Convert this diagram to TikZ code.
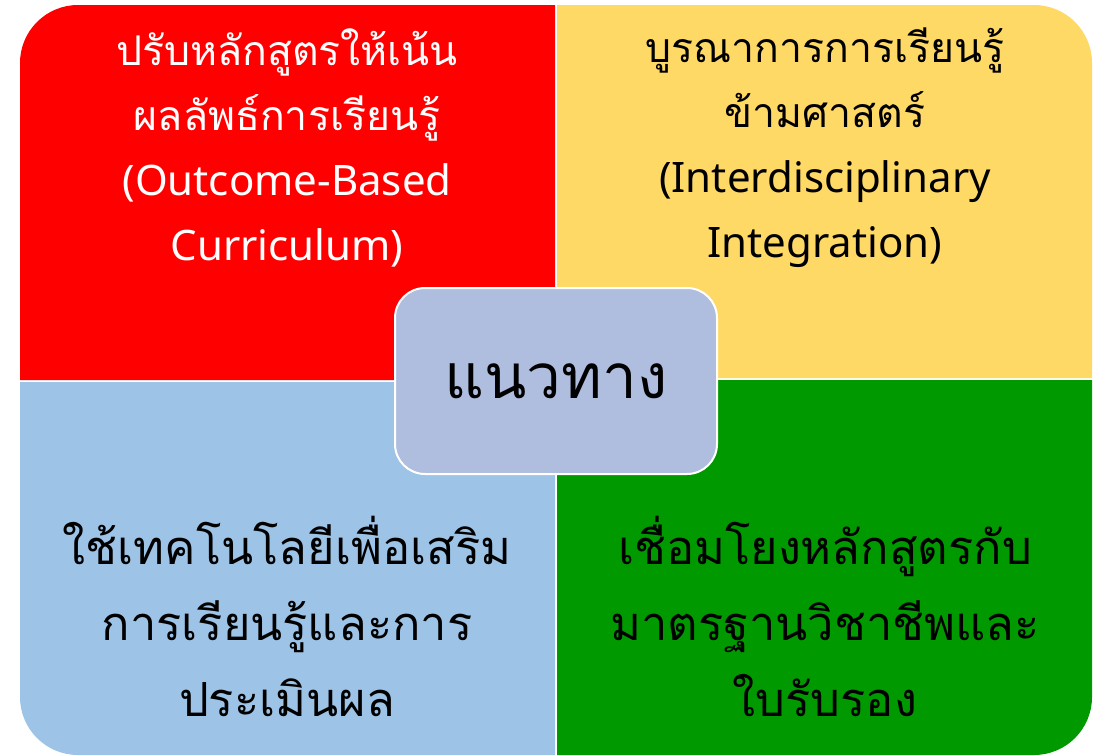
\documentclass[tikz,border=0pt]{standalone}
\usepackage{fontspec}
\newfontfamily\thai[Script=Thai]{Loma}
\newfontfamily\latinfont{Noto Sans}
\newcommand{\lat}[1]{{\latinfont\fontsize{42}{65}\selectfont #1}}
\definecolor{qred}{RGB}{255,0,0}
\definecolor{qyellow}{RGB}{255,217,102}
\definecolor{qblue}{RGB}{157,195,230}
\definecolor{qgreen}{RGB}{0,153,0}
\definecolor{qcenter}{RGB}{175,189,222}
\tikzset{
  toptext/.style={align=center, font=\thai\fontsize{41}{65}\selectfont, inner sep=0pt},
  bottext/.style={align=center, font=\thai\fontsize{47}{76}\selectfont, inner sep=0pt},
  centerbox/.style={fill=qcenter, draw=white, line width=2pt, rounded corners=30pt,
    minimum width=322pt, minimum height=186pt, inner sep=0pt,
    font=\thai\fontsize{62}{70}\selectfont}
}
\begin{document}
\begin{tikzpicture}[x=1pt,y=-1pt]
\useasboundingbox (0,0) rectangle (1102,755);
\fill[white] (0,0) rectangle (1102,755);
% quadrants
\fill[qred] (20,380) [rounded corners=58pt] -- (20,5) [sharp corners] -- (555,5) -- (555,380) -- cycle;
\fill[qyellow] (557,5) [rounded corners=58pt] -- (1092,5) [sharp corners] -- (1092,378) -- (557,378) -- cycle;
\fill[qblue] (20,382) [rounded corners=58pt] -- (20,755) [sharp corners] -- (555,755) -- (555,382) -- cycle;
\fill[qgreen] (557,380) -- (1092,380) [rounded corners=58pt] -- (1092,755) [sharp corners] -- (557,755) -- cycle;
% texts
\node[toptext, text=white] (tl) at (287,148) {ปรับหลักสูตรให้เน้น\\ผลลัพธ์การเรียนรู้\\\lat{(Outcome-Based}\\\lat{Curriculum)}};
\node[toptext, text=black] (tr) at (825,148) {บูรณาการการเรียนรู้\\ข้ามศาสตร์\\\lat{(Interdisciplinary}\\\lat{Integration)}};
\node[bottext, text=black] (bl) at (287,616) {ใช้เทคโนโลยีเพื่อเสริม\\การเรียนรู้และการ\\ประเมินผล};
\node[bottext, text=black] (br) at (825,616) {เชื่อมโยงหลักสูตรกับ\\มาตรฐานวิชาชีพและ\\ใบรับรอง};
\node[centerbox] (c) at (556,381) {แนวทาง};
\end{tikzpicture}
\end{document}
